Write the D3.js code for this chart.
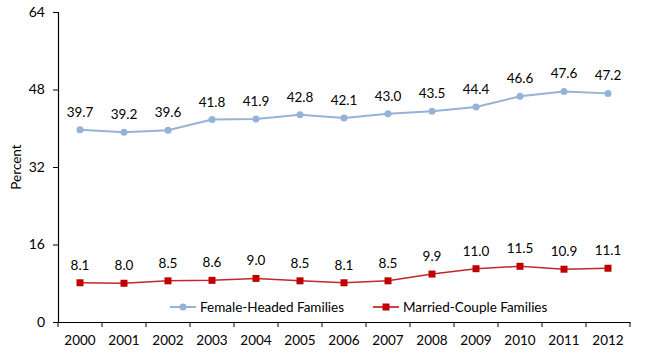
<!DOCTYPE html>
<html>
<head>
<meta charset="utf-8">
<script src="https://cdn.jsdelivr.net/npm/d3@7"></script>
<style>
  body { margin: 0; background: #fff; }
  text { font-family: Lato, "Open Sans", sans-serif; fill: #000; }
</style>
</head>
<body>
<div id="chart"></div>
<script>
const years = ["2000", "2001", "2002", "2003", "2004", "2005", "2006", "2007", "2008", "2009", "2010", "2011", "2012"];
const femaleHeaded = [39.7, 39.2, 39.6, 41.8, 41.9, 42.8, 42.1, 43.0, 43.5, 44.4, 46.6, 47.6, 47.2];
const marriedCouple = [8.1, 8.0, 8.5, 8.6, 9.0, 8.5, 8.1, 8.5, 9.9, 11.0, 11.5, 10.9, 11.1];
const yTicks = [0, 16, 32, 48, 64];
const seriesNames = ["Female-Headed Families", "Married-Couple Families"];

const w = 645;
const h = 363;
const plotLeft = 58, plotRight = 630, plotTop = 12, plotBottom = 322;

const svg = d3.select("#chart").append("svg")
              .attr("width", w)
              .attr("height", h);

const xScale = d3.scaleBand()
                 .domain(years)
                 .range([plotLeft, plotRight]);
const yScale = d3.scaleLinear()
                 .domain([0, 64])
                 .range([plotBottom, plotTop]);

// axes
const yAxis = d3.axisLeft(yScale).tickValues(yTicks).tickSize(5).tickPadding(8);
const gy = svg.append("g")
   .attr("transform", `translate(${plotLeft},0)`)
   .call(yAxis);
gy.selectAll("text").style("font-size", "14px");

const xAxis = d3.axisBottom(xScale).tickSize(0).tickPadding(13);
const gx = svg.append("g")
   .attr("transform", `translate(0,${plotBottom})`)
   .call(xAxis);
gx.selectAll("text").style("font-size", "13.5px");
// ticks between categories
gx.selectAll(".sep")
  .data(years.concat(["end"]))
  .enter().append("line")
  .attr("x1", (d, i) => plotLeft + i * xScale.step())
  .attr("x2", (d, i) => plotLeft + i * xScale.step())
  .attr("y1", 0).attr("y2", 5)
  .attr("stroke", "#000");
svg.selectAll(".domain").attr("stroke", "#000").attr("stroke-width", 1.2);

svg.append("text")
   .attr("text-anchor", "middle")
   .attr("transform", "translate(21,167) rotate(-90)")
   .style("font-size", "13.5px")
   .text("Percent");

const cx = d => xScale(d) + xScale.bandwidth() / 2;

// female-headed line
const lineF = d3.line().x((d, i) => cx(years[i])).y(d => yScale(d));
svg.append("path")
   .datum(femaleHeaded)
   .attr("d", lineF)
   .attr("fill", "none")
   .attr("stroke", "#95B3D7")
   .attr("stroke-width", 2);
svg.selectAll(".ptF")
   .data(femaleHeaded)
   .enter().append("circle")
   .attr("cx", (d, i) => cx(years[i]))
   .attr("cy", d => yScale(d))
   .attr("r", 3.5)
   .attr("fill", "#95B3D7");

// married-couple line
svg.append("path")
   .datum(marriedCouple)
   .attr("d", lineF)
   .attr("fill", "none")
   .attr("stroke", "#C0282B")
   .attr("stroke-width", 1.5);
svg.selectAll(".ptM")
   .data(marriedCouple)
   .enter().append("rect")
   .attr("x", (d, i) => cx(years[i]) - 3.5)
   .attr("y", d => yScale(d) - 3.5)
   .attr("width", 7).attr("height", 7)
   .attr("fill", "#C00000");

// data labels
[femaleHeaded, marriedCouple].forEach(series => {
  svg.selectAll(null)
     .data(series)
     .enter().append("text")
     .attr("x", (d, i) => cx(years[i]))
     .attr("y", d => yScale(d) - 13)
     .attr("text-anchor", "middle")
     .style("font-size", "13.5px")
     .text(d => d.toFixed(1));
});

// legend
const legendY = 307;
const legend = [
  {x: 170, color: "#95B3D7", shape: "circle", width: 2},
  {x: 373, color: "#C00000", shape: "rect", width: 1.5}
];
legend.forEach((l, i) => {
  svg.append("line")
     .attr("x1", l.x).attr("x2", l.x + 26)
     .attr("y1", legendY).attr("y2", legendY)
     .attr("stroke", l.color).attr("stroke-width", l.width);
  if (l.shape === "circle") {
    svg.append("circle").attr("cx", l.x + 13).attr("cy", legendY).attr("r", 3.5).attr("fill", l.color);
  } else {
    svg.append("rect").attr("x", l.x + 9.5).attr("y", legendY - 3.5).attr("width", 7).attr("height", 7).attr("fill", l.color);
  }
  svg.append("text")
     .attr("x", l.x + 30)
     .attr("y", legendY + 5)
     .style("font-size", "13.5px")
     .text(seriesNames[i]);
});
</script>
</body>
</html>
